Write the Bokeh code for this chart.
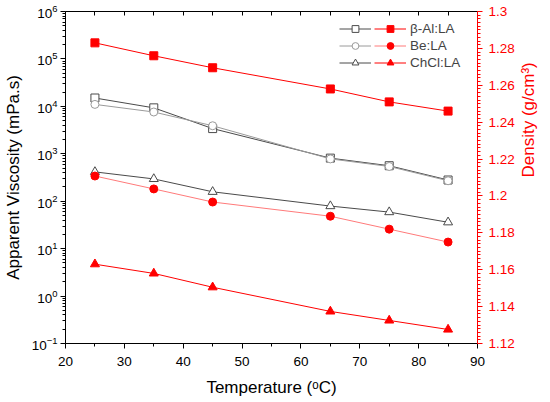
import math
import numpy as np
from bokeh.plotting import figure
from bokeh.models import (Range1d, LinearAxis, LinearScale, FixedTicker, NumeralTickFormatter,
                          Legend, LegendItem)
from bokeh.embed import file_html
from bokeh.resources import INLINE

# ---------------- data ----------------
temperature = [25, 35, 45, 65, 75, 85]
series_names = ["β-Al:LA", "Be:LA", "ChCl:LA"]

visc_beta = [15000, 9300, 3400, 810, 560, 280]
visc_be = [11000, 7600, 3900, 780, 540, 270]
visc_chcl = [415, 295, 158, 79, 59, 36]

dens_beta = [1.2830, 1.2760, 1.2695, 1.2580, 1.2510, 1.2460]
dens_be = [1.2108, 1.2038, 1.1967, 1.1890, 1.1820, 1.1750]
dens_chcl = [1.1630, 1.1580, 1.1505, 1.1374, 1.1325, 1.1276]

x_ticks = [20, 30, 40, 50, 60, 70, 80, 90]
x_minor_ticks = [20, 25, 30, 35, 40, 45, 50, 55, 60, 65, 70, 75, 80, 85, 90]
visc_ticks = [0.1, 1, 10, 100, 1000, 10000, 100000, 1000000]
dens_ticks = [1.12, 1.14, 1.16, 1.18, 1.20, 1.22, 1.24, 1.26, 1.28, 1.30]

# ---------------- style ----------------
FONT = "Liberation Sans"
RED = "#ff0000"
RED_LIGHT = "#ff7a7a"
GREY_DARK = "#4a4a4a"
GREY_LIGHT = "#9a9a9a"
TICK_FS = "13.5px"
TITLE_FS = "17px"

W, H = 550, 401
BL, BR, BT, BB = 61, 73, 11, 58

p = figure(width=W, height=H,
           x_range=Range1d(20, 90), y_range=Range1d(0.1, 1e6),
           y_axis_type="log", output_backend="svg", toolbar_location=None,
           min_border_left=BL, min_border_right=BR, min_border_top=BT, min_border_bottom=BB)
p.extra_y_ranges = {"dens": Range1d(1.12, 1.30)}
p.extra_y_scales = {"dens": LinearScale()}
p.grid.visible = False
p.outline_line_color = None
p.background_fill_color = "white"
p.border_fill_color = "white"

# bottom axis
xa = p.xaxis[0]
xa.ticker = FixedTicker(ticks=x_ticks, minor_ticks=x_minor_ticks)
xa.axis_label = "Temperature (ᵒC)"
# left axis
ya = p.yaxis[0]
minor_log = [m * 10.0 ** e for e in range(-1, 6) for m in range(2, 10)]
ya.ticker = FixedTicker(ticks=visc_ticks, minor_ticks=minor_log)
ya.axis_label = "Apparent Viscosity (mPa.s)"

for ax in (xa, ya):
    ax.axis_line_color = "black"
    ax.major_tick_line_color = "black"
    ax.minor_tick_line_color = "black"
    ax.major_tick_in = 0
    ax.major_tick_out = 5
    ax.minor_tick_in = 0
    ax.minor_tick_out = 3
    ax.major_label_text_font = FONT
    ax.major_label_text_font_size = TICK_FS
    ax.major_label_text_color = "black"
    ax.axis_label_text_font = FONT
    ax.axis_label_text_font_size = TITLE_FS
    ax.axis_label_text_font_style = "normal"
    ax.axis_label_text_color = "black"
xa.major_label_standoff = 8
xa.axis_label_standoff = 9
ya.major_label_standoff = 3
ya.axis_label_standoff = 6

# top axis (ticks only)
top = LinearAxis(ticker=FixedTicker(ticks=[], minor_ticks=x_minor_ticks),
                 axis_label=None, axis_label_standoff=0, major_label_standoff=0,
                 axis_line_color="black", minor_tick_line_color="black",
                 minor_tick_in=4, minor_tick_out=0, major_tick_in=0, major_tick_out=0)
p.add_layout(top, "above")

# right axis (density)
ra = LinearAxis(y_range_name="dens",
                ticker=FixedTicker(ticks=dens_ticks,
                                   minor_ticks=[round(v, 3) for v in np.arange(1.12, 1.3001, 0.002)]),
                formatter=NumeralTickFormatter(format="0.[00]"),
                axis_line_color=RED, major_tick_line_color=RED, minor_tick_line_color=RED,
                major_tick_in=0, major_tick_out=5, minor_tick_in=0, minor_tick_out=3,
                major_label_text_color=RED, major_label_text_font=FONT,
                major_label_text_font_size=TICK_FS, major_label_standoff=6,
                axis_label="Density (g/cm³)", axis_label_text_color=RED,
                axis_label_text_font=FONT, axis_label_text_font_size=TITLE_FS,
                axis_label_text_font_style="normal", axis_label_standoff=11)
if "axis_label_orientation" in LinearAxis.properties():
    ra.axis_label_orientation = math.pi / 2
p.add_layout(ra, "right")

# ---------------- series ----------------
visc_series = [(visc_beta, "square", GREY_DARK, 8),
               (visc_be, "circle", GREY_LIGHT, 8),
               (visc_chcl, "triangle", GREY_DARK, 9)]
dens_series = [(dens_beta, "square", RED, RED, 8),
               (dens_be, "circle", RED_LIGHT, RED, 8),
               (dens_chcl, "triangle", RED, RED, 9)]

grey_items = []
for vals, marker, col, sz in visc_series:
    l = p.line(temperature, vals, line_color=col, line_width=1)
    s = p.scatter(temperature, vals, marker=marker, size=sz, line_color=col,
                  fill_color="white", line_width=1)
    grey_items.append(LegendItem(label=" ", renderers=[l, s]))

red_items = []
for (vals, marker, lcol, mcol, sz), name in zip(dens_series, series_names):
    l = p.line(temperature, vals, line_color=lcol, line_width=1, y_range_name="dens")
    s = p.scatter(temperature, vals, marker=marker, size=sz, line_color=mcol,
                  fill_color=mcol, y_range_name="dens")
    red_items.append(LegendItem(label=name, renderers=[l, s]))

frame_h = H - BT - BB
leg_h = 3 * 17
common = dict(background_fill_alpha=0, border_line_color=None, padding=0, margin=0,
              spacing=0, glyph_width=32, glyph_height=17, label_height=17,
              label_text_font=FONT, label_text_font_size=TICK_FS)
legA = Legend(items=grey_items, location=(274, frame_h - 9 - leg_h), label_standoff=0, **common)
legB = Legend(items=red_items, location=(309, frame_h - 9 - leg_h), label_standoff=4, **common)
p.add_layout(legA, "center")
p.add_layout(legB, "center")

open("out.html", "w").write(file_html(p, INLINE))
